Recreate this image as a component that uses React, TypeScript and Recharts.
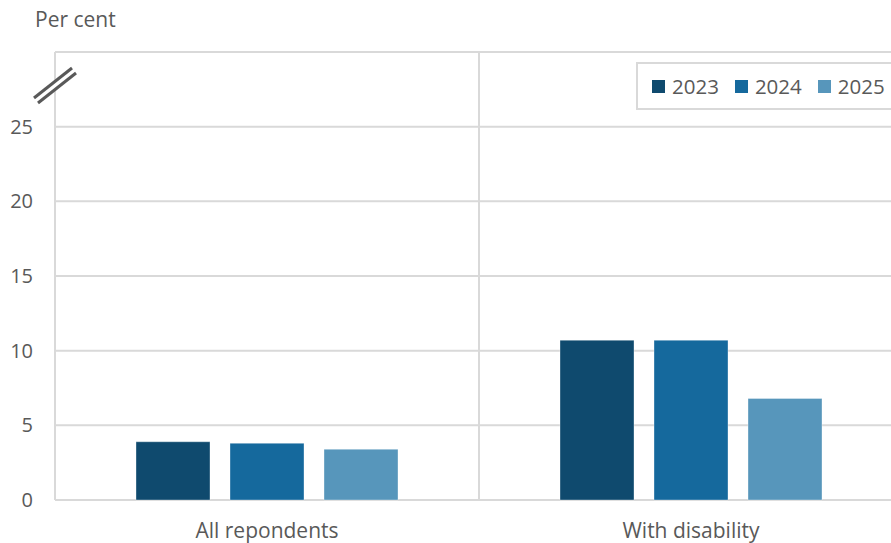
import { Bar, BarChart, CartesianGrid, Legend, XAxis, YAxis } from "recharts";

const groups = ["All repondents", "With disability"];
const years = ["2023", "2024", "2025"];
const values2023 = [3.9, 10.7];
const values2024 = [3.8, 10.7];
const values2025 = [3.4, 6.8];
const yTicks = [0, 5, 10, 15, 20, 25, 30];

const colors = ["#0f4a6e", "#15699d", "#5796bb"];
const textColor = "#595959";
const gridColor = "#d9d9d9";
const font = "'Open Sans', sans-serif";

const data = groups.map((name, i) => ({
  name,
  "2023": values2023[i],
  "2024": values2024[i],
  "2025": values2025[i],
}));

function YTick(props: any) {
  const { x, y, payload } = props;
  if (payload.value === 30) {
    // axis break marker, drawn just below the top gridline
    const cx = x + 22;
    const cy = y + 34;
    return (
      <g>
        <line x1={cx - 19} y1={cy + 15} x2={cx + 19} y2={cy - 15} stroke="#ffffff" strokeWidth={7} />
        <line x1={cx - 21} y1={cy + 12} x2={cx + 17} y2={cy - 18} stroke={textColor} strokeWidth={3} />
        <line x1={cx - 17} y1={cy + 17} x2={cx + 21} y2={cy - 13} stroke={textColor} strokeWidth={3} />
      </g>
    );
  }
  return (
    <text x={x} y={y} dy="0.355em" textAnchor="end" fill={textColor} fontSize={20} fontFamily={font}>
      {payload.value}
    </text>
  );
}

function LegendBox() {
  return (
    <div
      style={{
        display: "flex",
        alignItems: "center",
        height: 48,
        boxSizing: "border-box",
        border: `2px solid ${gridColor}`,
        paddingLeft: 14,
        paddingRight: 14,
        background: "#ffffff",
        fontFamily: font,
        fontSize: 20.5,
        color: textColor,
        whiteSpace: "nowrap",
      }}
    >
      {years.map((year, i) => (
        <span key={year} style={{ display: "flex", alignItems: "center", marginRight: 16 }}>
          <span style={{ display: "inline-block", width: 13, height: 13, background: colors[i], marginRight: 7 }} />
          {year}
        </span>
      ))}
    </div>
  );
}

export default function App() {
  return (
    <div style={{ position: "absolute", left: 0, top: 0, width: 891, height: 543, overflow: "hidden", background: "#ffffff" }}>
      <BarChart
        width={910}
        height={543}
        data={data}
        margin={{ top: 52, right: 7, bottom: 0, left: 0 }}
        barCategoryGap={81}
        barGap={20}
      >
        <CartesianGrid
          stroke={gridColor}
          strokeWidth={2}
          verticalCoordinatesGenerator={({ offset }: any) => [offset.left + offset.width / 2]}
        />
        <XAxis
          dataKey="name"
          height={43}
          axisLine={false}
          tickLine={false}
          tickSize={0}
          tickMargin={23}
          tick={{ fill: textColor, fontSize: 21, fontFamily: font }}
        />
        <YAxis
          width={55}
          domain={[0, 30]}
          ticks={yTicks}
          interval={0}
          axisLine={{ stroke: gridColor, strokeWidth: 2 }}
          tickLine={false}
          tickSize={0}
          tickMargin={22}
          tick={<YTick />}
          label={{
            content: ({ viewBox }: any) => (
              <text x={viewBox.x + 35} y={viewBox.y - 25} fill={textColor} fontSize={21} fontFamily={font}>
                Per cent
              </text>
            ),
          }}
        />
        <Legend
          layout="horizontal"
          verticalAlign="middle"
          align="center"
          content={<LegendBox />}
          wrapperStyle={{ top: 62, left: 636, width: "auto", height: 48 }}
        />
        {years.map((year, i) => (
          <Bar
            key={year}
            dataKey={year}
            fill={colors[i]}
            stroke="#ffffff"
            strokeOpacity={0.35}
            strokeWidth={1}
            isAnimationActive={false}
          />
        ))}
      </BarChart>
    </div>
  );
}
